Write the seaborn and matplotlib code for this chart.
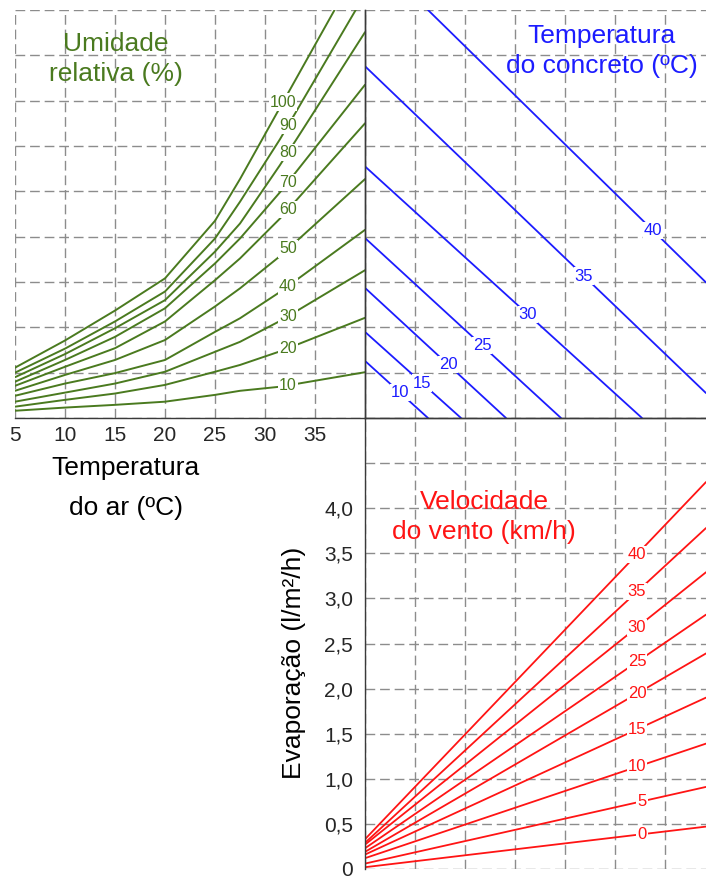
import numpy as np
import pandas as pd
import matplotlib
matplotlib.use("Agg")
import matplotlib.pyplot as plt
import seaborn as sns

sns.set_style("white")
plt.rcParams['font.family'] = ['Liberation Sans', 'DejaVu Sans']

W, H = 706, 877
verde = '#4a7a1f'
azul = '#1c1cff'
vermelho = '#ff1414'
cinza = '#8c8c8c'

# --- umidade relativa (quadro superior esquerdo), x = temperatura do ar
temp_ar = [5, 10, 15, 20, 25, 27.5, 31.5, 40]
umidade = [100, 90, 80, 70, 60, 50, 40, 30, 20, 10]
u100 = [1.11, 1.71, 2.37, 3.08, 4.35, 5.27, 6.85, 10.2]
u90 = [1.00, 1.53, 2.13, 2.79, 3.96, 4.77, 6.15, 9.35]
u80 = [0.90, 1.41, 1.98, 2.60, 3.67, 4.29, 5.58, 8.51]
u70 = [0.80, 1.28, 1.79, 2.42, 3.41, 3.96, 4.98, 7.35]
u60 = [0.71, 1.13, 1.54, 2.13, 3.04, 3.52, 4.40, 6.50]
u50 = [0.60, 0.95, 1.28, 1.72, 2.46, 2.86, 3.57, 5.27]
u40 = [0.49, 0.76, 0.99, 1.28, 1.90, 2.20, 2.78, 4.15]
u30 = [0.36, 0.56, 0.76, 1.02, 1.46, 1.68, 2.14, 3.26]
u20 = [0.25, 0.40, 0.54, 0.73, 1.02, 1.17, 1.47, 2.21]
u10 = [0.16, 0.23, 0.29, 0.36, 0.51, 0.60, 0.69, 1.01]
umid_label_x = [31.8, 32.3, 32.3, 32.3, 32.3, 32.3, 32.3, 32.3, 32.3, 32.3]

# --- temperatura do concreto (quadro superior direito)
conc_temp = [10, 15, 20, 25, 30, 35, 40]
conc_x_ini = [0, 0, 0, 0, 0, 0, 1.26]
conc_y_ini = [1.26, 1.90, 2.87, 3.97, 5.55, 7.76, 9.0]
conc_x_fim = [1.26, 1.92, 2.82, 3.92, 5.54, 6.82, 6.82]
conc_y_fim = [0, 0, 0, 0, 0, 0.55, 2.99]
conc_label_x = [0.70, 1.14, 1.66, 2.34, 3.26, 4.38, 5.76]

# --- velocidade do vento (quadro inferior direito)
vento = [0, 5, 10, 15, 20, 25, 30, 35, 40]
vento_x = [0, 6.82]
evap_ini = [0.02, 0.06, 0.12, 0.16, 0.19, 0.23, 0.27, 0.29, 0.33]
evap_fim = [0.47, 0.91, 1.39, 1.90, 2.39, 2.82, 3.29, 3.78, 4.29]
vento_label_x = [5.54, 5.54, 5.44, 5.44, 5.44, 5.44, 5.44, 5.44, 5.44]

evap_ticks = [0, 0.5, 1.0, 1.5, 2.0, 2.5, 3.0, 3.5, 4.0, 4.5]

curvas = [u100, u90, u80, u70, u60, u50, u40, u30, u20, u10]
df_umid = pd.DataFrame([(rh, t, v) for rh, c in zip(umidade, curvas)
                        for t, v in zip(temp_ar, c)], columns=['ur', 't', 'v'])
df_conc = pd.DataFrame([(c, x, y) for c, x0, y0, x1, y1 in
                        zip(conc_temp, conc_x_ini, conc_y_ini, conc_x_fim, conc_y_fim)
                        for x, y in ((x0, y0), (x1, y1))], columns=['tc', 'x', 'y'])
df_vento = pd.DataFrame([(v, x, e) for v, e0, e1 in zip(vento, evap_ini, evap_fim)
                         for x, e in zip(vento_x, (e0, e1))], columns=['vv', 'x', 'e'])

fig = plt.figure(figsize=(W / 100, H / 100), dpi=100)


def px(x0, y0, x1, y1):
    return [x0 / W, 1 - y1 / H, (x1 - x0) / W, (y1 - y0) / H]


ax_ur = fig.add_axes(px(15, 10, 365, 418))
ax_tc = fig.add_axes(px(365, 10, 706, 418))
ax_ev = fig.add_axes(px(365, 418, 706, 869))

grid_kw = dict(color=cinza, linestyle=(0, (7, 3.5)), linewidth=1.0)
for ax in (ax_ur, ax_tc, ax_ev):
    ax.set_axisbelow(True)
    ax.grid(True, **grid_kw)
    ax.tick_params(length=0)
    for s in ax.spines.values():
        s.set_visible(False)
        s.set_color('#3a3a3a')
        s.set_linewidth(1.0)
    ax.set_facecolor('none')

# quadro da umidade
sns.lineplot(data=df_umid, x='t', y='v', units='ur', estimator=None,
             color=verde, lw=1.4, ax=ax_ur, legend=False)
ax_ur.set_xlim(5, 40)
ax_ur.set_ylim(0, 9)
ax_ur.set_xticks([5, 10, 15, 20, 25, 30, 35])
ax_ur.set_yticks(range(10))
ax_ur.set_yticklabels([])
ax_ur.tick_params(axis='x', labelsize=15, pad=6)
ax_ur.spines['right'].set_visible(True)
ax_ur.spines['bottom'].set_visible(True)
ax_ur.set_xlabel('')
ax_ur.set_ylabel('')
for rh, c, lx in zip(umidade, curvas, umid_label_x):
    ax_ur.text(lx, np.interp(lx, temp_ar, c), str(rh), color=verde, fontsize=11.5,
               ha='center', va='center', zorder=5,
               bbox=dict(fc='white', ec='none', pad=0.8))

# quadro da temperatura do concreto
sns.lineplot(data=df_conc, x='x', y='y', units='tc', estimator=None,
             color=azul, lw=1.3, ax=ax_tc, legend=False)
ax_tc.set_xlim(0, 6.82)
ax_tc.set_ylim(0, 9)
ax_tc.set_xticks(range(7))
ax_tc.set_yticks(range(10))
ax_tc.set_xticklabels([])
ax_tc.set_yticklabels([])
ax_tc.spines['left'].set_visible(True)
ax_tc.spines['bottom'].set_visible(True)
ax_tc.set_xlabel('')
ax_tc.set_ylabel('')
for tc, x0, y0, x1, y1, lx in zip(conc_temp, conc_x_ini, conc_y_ini,
                                  conc_x_fim, conc_y_fim, conc_label_x):
    ly = y0 + (y1 - y0) * (lx - x0) / (x1 - x0)
    ax_tc.text(lx, ly, str(tc), color=azul, fontsize=12, ha='center', va='center',
               zorder=5, bbox=dict(fc='white', ec='none', pad=0.8))

# quadro da evaporação
sns.lineplot(data=df_vento, x='x', y='e', units='vv', estimator=None,
             color=vermelho, lw=1.3, ax=ax_ev, legend=False)
ax_ev.set_xlim(0, 6.82)
ax_ev.set_ylim(0, 5.0)
ax_ev.set_xticks(range(7))
ax_ev.set_xticklabels([])
ax_ev.set_yticks(evap_ticks)
ax_ev.set_yticklabels(['0' if v == 0 else ('' if v > 4 else f'{v:.1f}'.replace('.', ','))
                       for v in evap_ticks])
ax_ev.tick_params(axis='y', labelsize=15, pad=8.5)
ax_ev.spines['left'].set_visible(True)
ax_ev.spines['top'].set_visible(True)
ax_ev.set_xlabel('')
ax_ev.set_ylabel('')
for v, e0, e1, lx in zip(vento, evap_ini, evap_fim, vento_label_x):
    ax_ev.text(lx, np.interp(lx, vento_x, [e0, e1]), str(v), color=vermelho,
               fontsize=12, ha='center', va='center', zorder=5,
               bbox=dict(fc='white', ec='none', pad=0.8))


def ftext(x, y, s, **kw):
    fig.text(x / W, 1 - y / H, s, ha='center', va='center', fontsize=19, **kw)


ftext(116, 59, 'Umidade\nrelativa (%)', color=verde, linespacing=1.3)
ftext(602, 51, 'Temperatura\ndo concreto (ºC)', color=azul, linespacing=1.3)
ftext(484, 517, 'Velocidade\ndo vento (km/h)', color=vermelho, linespacing=1.3)
ftext(126, 488, 'Temperatura\ndo ar (ºC)', color='black', linespacing=1.85)
ftext(294, 663, 'Evaporação (l/m²/h)', color='black', rotation=90)

fig.savefig('out.png', dpi=100)
